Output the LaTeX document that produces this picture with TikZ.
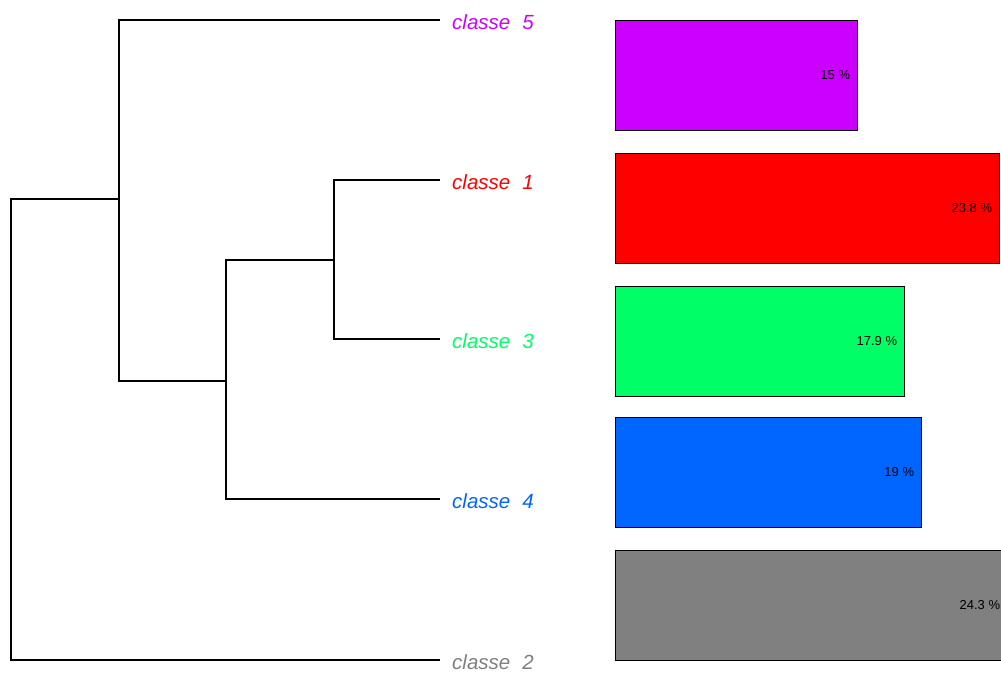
\documentclass[tikz,border=0pt]{standalone}
\usepackage{fontspec}
\setmainfont{Liberation Sans}
\definecolor{c5}{HTML}{CC00FF}
\definecolor{c1}{HTML}{FF0000}
\definecolor{c3}{HTML}{00FF66}
\definecolor{c4}{HTML}{0066FF}
\definecolor{c2}{HTML}{808080}
\begin{document}
\begin{tikzpicture}[x=1pt,y=-1pt,
  leaf/.style={anchor=west,inner sep=0pt,inner xsep=0pt,text height=18pt,text depth=0pt,
    font=\fontsize{20.5}{20.5}\selectfont\itshape},
  dend/.style={line width=1.3pt,black},
  bar/.style={draw=black,line width=1.8pt,anchor=north west,minimum height=110pt,inner sep=0pt},
  pct/.style={anchor=east,inner sep=0pt,font=\fontsize{13}{13}\selectfont,text=black}]
\useasboundingbox (0,0) rectangle (1001,672);
\clip (0,0) rectangle (1001,672);
\fill[white] (0,0) rectangle (1001,672);
% leaf labels
\node[leaf,text=c5] (L5) at (440,20) {\hspace{12pt}classe\hspace{12pt}5};
\node[leaf,text=c1] (L1) at (440,180) {\hspace{12pt}classe\hspace{12pt}1};
\node[leaf,text=c3] (L3) at (440,339) {\hspace{12pt}classe\hspace{12pt}3};
\node[leaf,text=c4] (L4) at (440,499) {\hspace{12pt}classe\hspace{12pt}4};
\node[leaf,text=c2] (L2) at (440,660) {\hspace{12pt}classe\hspace{12pt}2};
% merge points
\coordinate (m13) at (334,260);
\coordinate (m134) at (226,381);
\coordinate (m1345) at (119,199);
\coordinate (root) at (11,430);
% dendrogram
\draw[dend] (L1.west) -| (m13) |- (L3.west);
\draw[dend] (m13) -| (m134) |- (L4.west);
\draw[dend] (L5.west) -| (m1345) |- (m134);
\draw[dend] (m1345) -| (root) |- (L2.west);
% bars
\node[bar,fill=c5,minimum width=242pt] (B5) at (614.5,19.5) {};
\node[bar,fill=c1,minimum width=384pt] (B1) at (614.5,152.5) {};
\node[bar,fill=c3,minimum width=289pt] (B3) at (614.5,285.5) {};
\node[bar,fill=c4,minimum width=306pt] (B4) at (614.5,416.5) {};
\node[bar,fill=c2,minimum width=392pt] (B2) at (614.5,549.5) {};
\node[pct] (P5) at ([xshift=-8pt]B5.east) {15 \%};
\node[pct] (P1) at ([xshift=-8pt]B1.east) {23.8 \%};
\node[pct] (P3) at ([xshift=-8pt]B3.east) {17.9 \%};
\node[pct] (P4) at ([xshift=-8pt]B4.east) {19 \%};
\node[pct] (P2) at ([xshift=-8pt]B2.east) {24.3 \%};
\end{tikzpicture}
\end{document}
